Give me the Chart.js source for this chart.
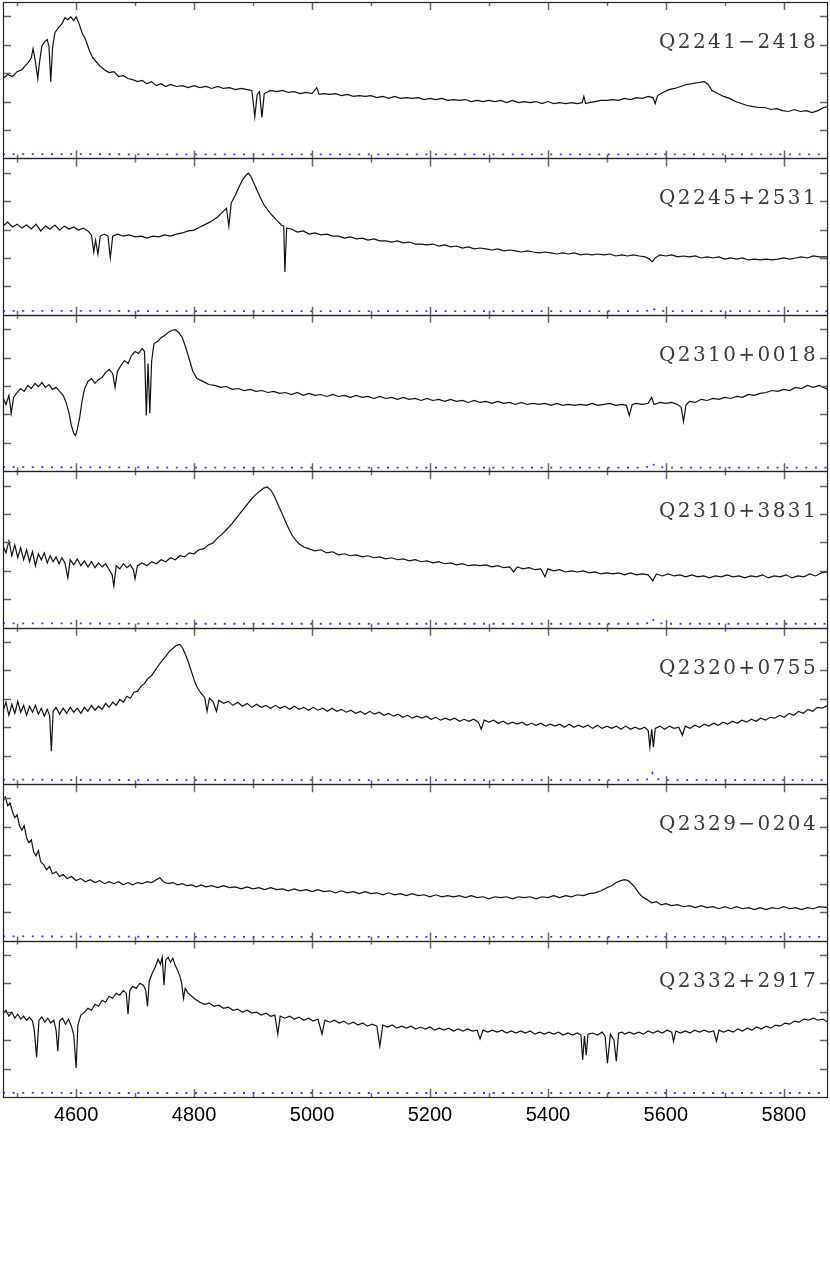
<!DOCTYPE html>
<html>
<head>
<meta charset="utf-8">
<title>Quasar spectra</title>
<script src="https://cdn.jsdelivr.net/npm/chart.js@4.4.0/dist/chart.umd.min.js"></script>
<style>
  html, body { margin: 0; padding: 0; background: #fff; }
  #wrap { width: 830px; height: 1278px; }
</style>
</head>
<body>
<div id="wrap"><canvas id="spectra" width="830" height="1278"></canvas></div>
<script>
// object names, top panel first
const names = ["Q2241\u22122418", "Q2245+2531", "Q2310+0018", "Q2310+3831",
               "Q2320+0755", "Q2329\u22120204", "Q2332+2917"];

// axis ticks (wavelength in Angstrom, flux in arbitrary units)
const xMajor = [4600, 4800, 5000, 5200, 5400, 5600, 5800];
const xMinor = [4500, 4700, 4900, 5100, 5300, 5500, 5700];
const yTicks = [1, 2, 3, 4, 5];

// Q2241-2418
const wave1 = [
  4476,4484,4492,4500,4508,4514,4520,4524,4527,4531,
  4535,4538,4542,4547,4551,4554,4557,4560,4564,4570,
  4576,4581,4586,4591,4596,4600,4605,4610,4616,4622,
  4628,4634,4640,4648,4656,4664,4672,4680,4688,4696,
  4704,4712,4720,4728,4736,4744,4752,4760,4770,4780,
  4790,4800,4810,4820,4830,4840,4850,4860,4870,4880,
  4890,4898,4903,4907,4911,4915,4919,4930,4940,4950,
  4960,4970,4980,4990,5000,5008,5012,5020,5030,5040,
  5050,5060,5070,5080,5090,5100,5110,5120,5130,5140,
  5150,5160,5170,5180,5190,5200,5210,5220,5230,5240,
  5250,5260,5270,5280,5290,5300,5310,5320,5330,5340,
  5350,5360,5370,5380,5390,5400,5410,5420,5430,5440,
  5450,5458,5461,5464,5470,5480,5490,5500,5510,5520,
  5530,5540,5550,5560,5570,5578,5582,5586,5595,5605,
  5615,5625,5635,5645,5655,5665,5672,5678,5688,5698,
  5708,5718,5728,5738,5748,5758,5768,5778,5788,5798,
  5808,5818,5828,5838,5848,5858,5868,5875];
const flux1 = [
  2.81,2.95,2.88,3.05,3.12,3.26,3.40,3.54,3.86,3.40,
  2.81,3.40,3.96,4.11,4.18,3.93,2.70,3.89,4.42,4.60,
  4.74,4.95,4.88,4.98,4.84,4.98,4.74,4.42,4.18,3.82,
  3.54,3.40,3.26,3.12,3.02,3.05,2.88,2.91,2.81,2.77,
  2.70,2.74,2.63,2.70,2.56,2.63,2.53,2.60,2.53,2.56,
  2.49,2.56,2.49,2.53,2.46,2.53,2.46,2.49,2.42,2.46,
  2.42,2.39,1.47,2.25,2.35,1.44,2.28,2.39,2.35,2.39,
  2.32,2.35,2.28,2.32,2.28,2.49,2.25,2.28,2.25,2.28,
  2.21,2.25,2.18,2.21,2.18,2.21,2.14,2.18,2.11,2.18,
  2.11,2.14,2.11,2.14,2.07,2.11,2.07,2.11,2.04,2.07,
  2.04,2.07,2.00,2.04,2.00,2.04,2.00,2.04,1.96,2.04,
  1.96,2.00,1.96,2.00,1.93,2.00,1.93,1.96,1.93,1.96,
  1.93,1.96,2.18,1.93,1.96,2.00,2.04,2.04,2.07,2.04,
  2.11,2.07,2.14,2.11,2.18,2.14,1.93,2.21,2.32,2.42,
  2.46,2.53,2.60,2.63,2.67,2.70,2.60,2.39,2.28,2.18,
  2.11,2.00,1.93,1.86,1.82,1.79,1.79,1.72,1.75,1.68,
  1.65,1.72,1.65,1.68,1.61,1.68,1.79,1.82];

// Q2245+2531
const wave2 = [
  4476,4484,4492,4500,4508,4516,4524,4532,4540,4548,
  4556,4564,4572,4580,4588,4596,4604,4612,4620,4626,
  4630,4633,4637,4641,4648,4654,4658,4662,4670,4680,
  4690,4700,4710,4720,4730,4740,4750,4760,4770,4780,
  4790,4800,4810,4820,4830,4840,4848,4855,4859,4863,
  4870,4876,4882,4888,4892,4896,4900,4906,4912,4918,
  4925,4932,4940,4948,4952,4954,4957,4965,4975,4985,
  4995,5005,5015,5025,5035,5045,5055,5065,5075,5085,
  5095,5105,5115,5125,5135,5145,5155,5165,5175,5185,
  5195,5205,5215,5225,5235,5245,5255,5265,5275,5285,
  5295,5305,5315,5325,5335,5345,5355,5365,5375,5385,
  5395,5405,5415,5425,5435,5445,5455,5465,5475,5485,
  5495,5505,5515,5525,5535,5545,5555,5565,5572,5577,
  5582,5590,5600,5610,5620,5630,5640,5650,5660,5670,
  5680,5690,5700,5710,5720,5730,5740,5750,5760,5770,
  5780,5790,5800,5810,5820,5830,5840,5850,5860,5875];
const flux2 = [
  3.12,3.26,3.09,3.19,3.05,3.16,3.02,3.19,2.95,3.12,
  3.02,3.16,2.98,3.12,3.02,3.09,2.98,3.05,2.95,2.81,
  2.21,2.63,2.14,2.77,2.84,2.77,2.00,2.77,2.84,2.77,
  2.81,2.74,2.77,2.70,2.77,2.74,2.81,2.77,2.84,2.88,
  2.95,2.98,3.09,3.19,3.30,3.44,3.61,3.75,3.12,3.93,
  4.21,4.49,4.74,4.91,4.98,4.88,4.70,4.42,4.14,3.89,
  3.68,3.51,3.33,3.16,3.12,1.51,3.05,3.02,2.91,2.95,
  2.84,2.88,2.81,2.84,2.77,2.77,2.70,2.74,2.67,2.70,
  2.63,2.67,2.60,2.60,2.56,2.60,2.53,2.56,2.49,2.49,
  2.46,2.49,2.42,2.46,2.39,2.42,2.35,2.39,2.32,2.35,
  2.32,2.28,2.32,2.25,2.28,2.25,2.21,2.25,2.21,2.18,
  2.21,2.18,2.14,2.18,2.14,2.18,2.11,2.14,2.11,2.14,
  2.11,2.14,2.07,2.11,2.07,2.11,2.07,2.04,1.96,1.86,
  2.00,2.11,2.07,2.11,2.04,2.07,2.04,2.07,2.00,2.04,
  2.00,2.04,1.96,2.00,1.96,2.00,1.93,1.96,1.93,1.96,
  1.93,1.96,2.00,1.96,2.00,2.04,2.00,2.07,2.04,2.04];

// Q2310+0018
const wave3 = [
  4476,4481,4486,4490,4494,4500,4506,4512,4518,4524,
  4530,4536,4542,4548,4554,4560,4566,4572,4578,4583,
  4588,4592,4596,4599,4602,4606,4610,4614,4620,4626,
  4632,4638,4644,4650,4656,4662,4666,4670,4676,4682,
  4688,4694,4700,4706,4712,4716,4719,4722,4725,4728,
  4732,4738,4744,4750,4756,4762,4768,4774,4780,4786,
  4792,4798,4805,4815,4825,4835,4845,4855,4865,4875,
  4885,4895,4905,4915,4925,4935,4945,4955,4965,4975,
  4985,4995,5005,5015,5025,5035,5045,5055,5065,5075,
  5085,5095,5105,5115,5125,5135,5145,5155,5165,5175,
  5185,5195,5205,5215,5225,5235,5245,5255,5265,5275,
  5285,5295,5305,5315,5325,5335,5345,5355,5365,5375,
  5385,5395,5405,5415,5425,5435,5445,5455,5465,5475,
  5485,5495,5505,5515,5525,5533,5538,5543,5550,5560,
  5570,5576,5580,5590,5600,5610,5620,5626,5630,5634,
  5640,5650,5660,5670,5680,5690,5700,5710,5720,5730,
  5740,5750,5760,5770,5780,5790,5800,5810,5820,5830,
  5840,5850,5860,5875];
const flux3 = [
  2.60,2.35,2.67,2.04,2.60,2.77,2.91,2.81,3.02,2.91,
  3.09,2.98,3.12,2.95,3.05,2.88,2.95,2.81,2.67,2.42,
  2.04,1.61,1.33,1.26,1.47,1.89,2.46,2.88,3.16,3.26,
  3.09,3.23,3.30,3.47,3.58,3.44,2.95,3.51,3.72,3.89,
  3.79,4.07,4.21,4.14,4.32,4.21,1.96,3.79,2.04,3.86,
  4.49,4.56,4.70,4.77,4.88,4.95,4.98,4.88,4.70,4.35,
  3.93,3.51,3.26,3.16,3.05,3.02,2.95,2.98,2.88,2.91,
  2.84,2.88,2.81,2.84,2.77,2.81,2.74,2.77,2.70,2.77,
  2.67,2.74,2.67,2.70,2.63,2.70,2.63,2.67,2.60,2.67,
  2.60,2.63,2.56,2.63,2.56,2.60,2.53,2.60,2.53,2.56,
  2.49,2.56,2.49,2.53,2.46,2.53,2.46,2.49,2.42,2.49,
  2.42,2.46,2.39,2.46,2.39,2.42,2.35,2.42,2.35,2.39,
  2.35,2.39,2.32,2.39,2.32,2.35,2.32,2.35,2.32,2.39,
  2.32,2.35,2.39,2.32,2.35,2.32,1.96,2.35,2.39,2.35,
  2.39,2.60,2.35,2.42,2.39,2.42,2.35,2.25,1.75,2.32,
  2.46,2.42,2.53,2.49,2.56,2.53,2.60,2.56,2.63,2.60,
  2.70,2.67,2.74,2.77,2.84,2.81,2.88,2.84,2.95,2.91,
  3.02,2.95,3.02,2.88];

// Q2310+3831
const wave4 = [
  4476,4481,4486,4491,4496,4501,4506,4511,4516,4521,
  4526,4531,4536,4541,4546,4551,4556,4561,4566,4571,
  4576,4581,4586,4590,4596,4602,4608,4614,4620,4626,
  4632,4638,4644,4650,4656,4661,4664,4668,4674,4680,
  4686,4692,4697,4700,4704,4712,4720,4728,4736,4744,
  4752,4760,4768,4776,4784,4792,4800,4808,4816,4824,
  4832,4840,4848,4856,4864,4872,4880,4888,4896,4904,
  4912,4918,4924,4930,4936,4942,4948,4954,4960,4966,
  4972,4978,4986,4995,5005,5015,5025,5035,5045,5055,
  5065,5075,5085,5095,5105,5115,5125,5135,5145,5155,
  5165,5175,5185,5195,5205,5215,5225,5235,5245,5255,
  5265,5275,5285,5295,5305,5315,5325,5335,5342,5348,
  5358,5368,5378,5388,5395,5400,5410,5420,5430,5440,
  5450,5460,5470,5480,5490,5500,5510,5520,5530,5540,
  5550,5560,5570,5578,5584,5594,5604,5614,5624,5634,
  5644,5654,5664,5674,5684,5694,5704,5714,5724,5734,
  5744,5754,5764,5774,5784,5794,5804,5814,5824,5834,
  5844,5854,5864,5875];
const flux4 = [
  2.88,2.63,3.05,2.53,2.91,2.46,2.81,2.39,2.74,2.32,
  2.67,2.18,2.60,2.39,2.63,2.28,2.53,2.32,2.49,2.25,
  2.46,2.28,1.75,2.39,2.21,2.42,2.18,2.35,2.14,2.32,
  2.11,2.28,2.14,2.25,2.04,1.86,1.47,2.18,2.07,2.25,
  2.11,2.21,2.04,1.72,2.18,2.28,2.18,2.32,2.25,2.39,
  2.32,2.46,2.39,2.53,2.49,2.63,2.60,2.74,2.77,2.91,
  2.98,3.16,3.30,3.47,3.65,3.86,4.07,4.28,4.49,4.67,
  4.81,4.91,4.95,4.84,4.63,4.35,4.07,3.79,3.51,3.26,
  3.09,2.95,2.84,2.77,2.70,2.74,2.63,2.67,2.56,2.60,
  2.53,2.56,2.49,2.53,2.46,2.49,2.42,2.46,2.39,2.42,
  2.35,2.39,2.32,2.35,2.28,2.32,2.25,2.28,2.21,2.25,
  2.18,2.21,2.18,2.21,2.14,2.18,2.11,2.14,1.96,2.14,
  2.07,2.11,2.04,2.07,1.79,2.07,2.00,2.04,1.96,2.00,
  1.96,2.00,1.93,1.96,1.89,1.93,1.89,1.93,1.86,1.93,
  1.86,1.89,1.86,1.65,1.89,1.82,1.89,1.82,1.86,1.79,
  1.86,1.79,1.82,1.75,1.82,1.79,1.86,1.79,1.82,1.75,
  1.82,1.79,1.86,1.75,1.82,1.79,1.86,1.75,1.82,1.79,
  1.89,1.82,1.93,1.96];

// Q2320+0755
const wave5 = [
  4476,4481,4486,4491,4496,4501,4506,4511,4516,4521,
  4526,4531,4536,4541,4546,4551,4555,4558,4561,4566,
  4572,4578,4584,4590,4596,4602,4608,4614,4620,4626,
  4632,4638,4644,4650,4656,4662,4668,4674,4680,4686,
  4692,4698,4704,4710,4716,4722,4728,4734,4740,4746,
  4752,4758,4764,4770,4776,4781,4786,4791,4796,4801,
  4806,4812,4818,4822,4826,4832,4838,4842,4850,4858,
  4866,4874,4882,4890,4898,4906,4914,4922,4930,4938,
  4946,4954,4962,4970,4978,4986,4994,5002,5010,5018,
  5026,5034,5042,5050,5058,5066,5074,5082,5090,5098,
  5106,5114,5122,5130,5138,5146,5154,5162,5170,5178,
  5186,5194,5202,5210,5218,5226,5234,5242,5250,5258,
  5266,5274,5282,5287,5292,5300,5308,5316,5324,5332,
  5340,5348,5356,5364,5372,5380,5388,5396,5404,5412,
  5420,5428,5436,5444,5452,5460,5468,5476,5484,5492,
  5500,5508,5516,5524,5532,5540,5548,5556,5564,5570,
  5573,5576,5579,5582,5590,5598,5606,5614,5622,5628,
  5633,5641,5649,5657,5665,5673,5681,5689,5697,5705,
  5713,5721,5729,5737,5745,5753,5761,5769,5777,5785,
  5793,5801,5809,5817,5825,5833,5841,5849,5857,5865,
  5875];
const flux5 = [
  2.56,2.88,2.42,2.81,2.49,2.91,2.53,2.77,2.42,2.74,
  2.53,2.77,2.46,2.67,2.39,2.63,2.42,1.16,2.56,2.70,
  2.46,2.67,2.49,2.70,2.53,2.67,2.49,2.70,2.56,2.77,
  2.60,2.74,2.63,2.84,2.70,2.88,2.77,2.98,2.88,3.09,
  3.02,3.23,3.26,3.44,3.54,3.72,3.82,4.00,4.18,4.35,
  4.49,4.67,4.77,4.88,4.91,4.77,4.53,4.25,3.93,3.61,
  3.37,3.19,3.05,2.56,3.02,2.91,2.56,2.95,2.84,2.91,
  2.77,2.88,2.74,2.84,2.70,2.81,2.70,2.77,2.67,2.77,
  2.67,2.74,2.63,2.74,2.63,2.70,2.60,2.70,2.60,2.67,
  2.56,2.67,2.56,2.63,2.53,2.60,2.49,2.56,2.46,2.56,
  2.46,2.53,2.42,2.49,2.39,2.46,2.35,2.42,2.32,2.39,
  2.32,2.39,2.28,2.35,2.25,2.32,2.25,2.32,2.21,2.28,
  2.21,2.28,2.18,1.93,2.25,2.18,2.25,2.14,2.21,2.11,
  2.18,2.11,2.18,2.07,2.14,2.07,2.14,2.04,2.11,2.04,
  2.11,2.00,2.11,2.00,2.07,2.00,2.07,1.96,2.07,1.96,
  2.04,1.96,2.04,1.93,2.04,1.93,2.00,1.93,2.00,1.89,
  1.30,1.93,1.30,1.96,2.04,1.93,2.04,1.96,2.00,1.72,
  2.04,1.96,2.07,2.00,2.11,2.04,2.14,2.07,2.18,2.11,
  2.21,2.14,2.25,2.18,2.28,2.21,2.32,2.25,2.35,2.32,
  2.42,2.35,2.49,2.42,2.56,2.49,2.63,2.56,2.70,2.67,
  2.77];

// Q2329-0204
const wave6 = [
  4476,4480,4484,4488,4492,4496,4500,4504,4508,4512,
  4516,4520,4524,4528,4532,4536,4540,4545,4550,4555,
  4560,4566,4572,4578,4585,4592,4600,4608,4616,4624,
  4632,4640,4648,4656,4664,4672,4680,4688,4696,4704,
  4712,4720,4728,4736,4742,4748,4756,4764,4772,4780,
  4788,4796,4804,4812,4820,4830,4840,4850,4860,4870,
  4880,4890,4900,4910,4920,4930,4940,4950,4960,4970,
  4980,4990,5000,5010,5020,5030,5040,5050,5060,5070,
  5080,5090,5100,5110,5120,5130,5140,5150,5160,5170,
  5180,5190,5200,5210,5220,5230,5240,5250,5260,5270,
  5280,5290,5300,5310,5320,5330,5340,5350,5360,5370,
  5380,5390,5400,5410,5420,5430,5440,5450,5460,5470,
  5480,5490,5500,5508,5516,5524,5530,5536,5542,5548,
  5554,5560,5568,5576,5584,5592,5600,5610,5620,5630,
  5640,5650,5660,5670,5680,5690,5700,5710,5720,5730,
  5740,5750,5760,5770,5780,5790,5800,5810,5820,5830,
  5840,5850,5860,5875];
const flux6 = [
  4.91,5.05,4.74,4.84,4.53,4.32,4.42,4.04,3.89,4.04,
  3.61,3.44,3.54,3.12,2.98,3.16,2.77,2.67,2.49,2.60,
  2.35,2.42,2.25,2.32,2.18,2.25,2.11,2.18,2.07,2.14,
  2.04,2.11,2.00,2.07,2.00,2.07,1.96,2.04,1.96,2.04,
  2.00,2.07,2.04,2.14,2.21,2.07,2.00,2.04,1.96,2.00,
  1.93,1.96,1.89,1.96,1.89,1.93,1.86,1.93,1.86,1.89,
  1.82,1.89,1.82,1.86,1.79,1.86,1.79,1.82,1.75,1.82,
  1.75,1.79,1.72,1.79,1.72,1.75,1.68,1.75,1.68,1.72,
  1.65,1.72,1.65,1.68,1.61,1.68,1.61,1.65,1.58,1.65,
  1.58,1.61,1.54,1.61,1.54,1.58,1.54,1.58,1.51,1.58,
  1.51,1.54,1.47,1.54,1.51,1.54,1.47,1.54,1.51,1.54,
  1.47,1.54,1.51,1.58,1.51,1.58,1.54,1.61,1.58,1.65,
  1.68,1.75,1.86,1.93,2.04,2.11,2.14,2.11,2.00,1.86,
  1.68,1.54,1.44,1.33,1.37,1.26,1.30,1.23,1.26,1.19,
  1.23,1.16,1.23,1.16,1.19,1.12,1.19,1.12,1.19,1.12,
  1.16,1.09,1.16,1.09,1.16,1.12,1.19,1.12,1.16,1.09,
  1.16,1.12,1.19,1.16];

// Q2332+2917
const wave7 = [
  4476,4481,4486,4491,4496,4501,4506,4511,4516,4521,
  4526,4529,4533,4537,4542,4547,4552,4557,4562,4566,
  4569,4572,4577,4582,4587,4592,4596,4600,4603,4608,
  4614,4620,4626,4632,4638,4644,4650,4656,4662,4668,
  4674,4680,4685,4688,4691,4696,4702,4708,4714,4718,
  4721,4724,4729,4734,4739,4743,4746,4749,4752,4756,
  4760,4764,4768,4772,4776,4779,4782,4785,4790,4796,
  4802,4810,4818,4826,4834,4842,4850,4858,4866,4874,
  4882,4890,4898,4906,4914,4922,4930,4937,4942,4946,
  4954,4962,4970,4978,4986,4994,5002,5010,5017,5022,
  5030,5038,5046,5054,5062,5070,5078,5086,5094,5102,
  5110,5115,5120,5128,5136,5144,5152,5160,5168,5176,
  5184,5192,5200,5208,5216,5224,5232,5240,5248,5256,
  5264,5272,5280,5285,5290,5298,5306,5314,5322,5330,
  5338,5346,5354,5362,5370,5378,5386,5394,5402,5410,
  5418,5426,5434,5442,5450,5456,5459,5462,5465,5468,
  5476,5484,5492,5497,5501,5506,5512,5516,5520,5526,
  5530,5538,5546,5554,5562,5570,5578,5586,5594,5602,
  5610,5613,5617,5625,5633,5641,5649,5657,5665,5673,
  5681,5686,5690,5698,5706,5714,5722,5730,5738,5746,
  5754,5762,5770,5778,5786,5794,5802,5810,5818,5826,
  5834,5842,5850,5858,5866,5875];
const flux7 = [
  2.95,3.05,2.84,2.98,2.77,2.91,2.74,2.84,2.70,2.81,
  2.67,2.35,1.40,2.70,2.81,2.63,2.77,2.60,2.70,2.35,
  1.61,2.67,2.77,2.56,2.74,2.49,2.18,1.02,2.53,2.88,
  2.98,3.12,3.05,3.26,3.19,3.40,3.33,3.54,3.47,3.65,
  3.58,3.75,3.65,2.91,3.75,3.89,3.82,4.00,3.93,3.75,
  3.19,4.07,4.35,4.56,4.84,4.67,4.91,3.93,4.81,4.91,
  4.74,4.88,4.63,4.46,4.25,4.00,3.47,3.82,3.65,3.54,
  3.44,3.33,3.26,3.30,3.19,3.23,3.12,3.16,3.05,3.09,
  2.98,3.05,2.95,2.98,2.88,2.95,2.84,2.88,2.21,2.84,
  2.77,2.84,2.74,2.81,2.70,2.77,2.67,2.74,2.21,2.70,
  2.63,2.70,2.60,2.67,2.56,2.63,2.53,2.60,2.49,2.56,
  2.49,1.79,2.53,2.46,2.53,2.42,2.49,2.42,2.49,2.39,
  2.46,2.39,2.46,2.35,2.42,2.35,2.42,2.32,2.39,2.32,
  2.39,2.32,2.35,2.04,2.35,2.28,2.35,2.28,2.35,2.25,
  2.32,2.25,2.32,2.25,2.32,2.21,2.28,2.21,2.28,2.21,
  2.28,2.18,2.25,2.18,2.25,2.18,1.30,2.14,1.47,2.21,
  2.25,2.18,2.28,2.14,1.19,2.21,2.00,1.26,2.25,2.28,
  2.21,2.28,2.21,2.28,2.21,2.32,2.25,2.32,2.25,2.35,
  2.28,1.96,2.32,2.25,2.32,2.25,2.35,2.28,2.35,2.28,
  2.32,1.96,2.35,2.28,2.35,2.28,2.39,2.32,2.42,2.35,
  2.46,2.39,2.49,2.42,2.53,2.49,2.60,2.56,2.67,2.63,
  2.74,2.70,2.77,2.70,2.74,2.63];

// error spectra (blue dotted), shared wavelength grid
const errWave = [4476, 4600, 4800, 5000, 5200, 5400, 5560, 5572, 5577, 5582, 5600, 5800, 5875];
const err1 = [0.15,0.15,0.14,0.14,0.14,0.14,0.14,0.15,0.22,0.15,0.14,0.14,0.14];
const err2 = [0.14,0.14,0.13,0.13,0.13,0.13,0.13,0.15,0.27,0.15,0.13,0.13,0.13];
const err3 = [0.15,0.14,0.13,0.13,0.13,0.13,0.13,0.16,0.30,0.16,0.13,0.13,0.13];
const err4 = [0.15,0.15,0.14,0.14,0.14,0.14,0.14,0.17,0.33,0.17,0.14,0.14,0.14];
const err5 = [0.16,0.15,0.14,0.14,0.14,0.14,0.14,0.18,0.40,0.18,0.14,0.14,0.14];
const err6 = [0.15,0.14,0.13,0.13,0.13,0.13,0.13,0.14,0.20,0.14,0.13,0.13,0.13];
const err7 = [0.15,0.14,0.14,0.14,0.14,0.14,0.14,0.15,0.22,0.15,0.14,0.14,0.14];

const waves = [wave1, wave2, wave3, wave4, wave5, wave6, wave7];
const fluxes = [flux1, flux2, flux3, flux4, flux5, flux6, flux7];
const errs = [err1, err2, err3, err4, err5, err6, err7];

const panelIds = names.map((n, i) => "y" + (i + 1));

// build the datasets: error first so the spectrum sits on top
const datasets = [];
names.forEach((name, i) => {
  if (waves[i].length !== fluxes[i].length) {
    console.error("length mismatch in panel " + name);
  }
  datasets.push({
    label: name + " error",
    data: errWave.map((w, k) => ({ x: w, y: errs[i][k] })),
    yAxisID: panelIds[i],
    borderColor: "rgb(45, 65, 255)",
    borderWidth: 1.8,
    borderDash: [2, 7.6],
    pointRadius: 0,
    tension: 0
  });
  datasets.push({
    label: name,
    data: waves[i].map((w, k) => ({ x: w, y: fluxes[i][k] })),
    yAxisID: panelIds[i],
    borderColor: "#111",
    borderWidth: 1.2,
    pointRadius: 0,
    tension: 0
  });
});

const scales = {
  x: {
    type: "linear",
    position: "bottom",
    min: 4476,
    max: 5875,
    grid: { display: false, drawTicks: false },
    border: { display: false },
    afterBuildTicks: (axis) => { axis.ticks = xMajor.map(v => ({ value: v })); },
    ticks: {
      padding: 6,
      color: "#000",
      maxRotation: 0,
      autoSkip: false,
      font: { family: "'Liberation Sans', Arial, sans-serif", size: 20 },
      callback: (v) => String(v)
    },
    afterFit: (axis) => { axis.height = 181; }
  }
};
panelIds.forEach((id, i) => {
  scales[id] = {
    type: "linear",
    position: "left",
    stack: "panels",
    stackWeight: 1,
    weight: names.length - i,   // higher weight is placed higher in the stack
    min: 0,
    max: 5.5,
    grid: { display: false, drawTicks: false },
    border: { display: false },
    ticks: { display: false },
    afterFit: (axis) => { axis.width = 0; }
  };
});

// frames, inward tick marks and object names for every panel
const panelFrame = {
  id: "panelFrame",
  afterDatasetsDraw(chart) {
    const { ctx, chartArea } = chart;
    const xs = chart.scales.x;
    const left = chartArea.left, right = chartArea.right;
    ctx.save();
    panelIds.forEach((id, i) => {
      const s = chart.scales[id];
      const top = s.top, bottom = s.bottom;

      ctx.strokeStyle = "#666";
      ctx.lineWidth = 1.5;
      ctx.beginPath();
      xMajor.forEach(v => {
        const p = Math.round(xs.getPixelForValue(v)) + 0.5;
        ctx.moveTo(p, top); ctx.lineTo(p, top + 8);
        ctx.moveTo(p, bottom); ctx.lineTo(p, bottom - 8);
      });
      xMinor.forEach(v => {
        const p = Math.round(xs.getPixelForValue(v)) + 0.5;
        ctx.moveTo(p, top); ctx.lineTo(p, top + 4);
        ctx.moveTo(p, bottom); ctx.lineTo(p, bottom - 4);
      });
      yTicks.forEach(v => {
        const p = Math.round(s.getPixelForValue(v)) + 0.5;
        ctx.moveTo(left, p); ctx.lineTo(left + 8, p);
        ctx.moveTo(right, p); ctx.lineTo(right - 8, p);
      });
      ctx.stroke();

      ctx.strokeStyle = "#222";
      ctx.lineWidth = 1.2;
      ctx.strokeRect(left + 0.5, Math.round(top) + 0.5, right - left - 1, Math.round(bottom) - Math.round(top));

      ctx.fillStyle = "#3a3a3a";
      ctx.font = "20px 'DejaVu Serif', serif";
      ctx.letterSpacing = "2.4px";
      ctx.textAlign = "right";
      ctx.textBaseline = "alphabetic";
      ctx.fillText(names[i], right - 10, top + 46);
      ctx.letterSpacing = "0px";
    });
    ctx.restore();
  }
};

new Chart(document.getElementById("spectra"), {
  type: "line",
  data: { datasets: datasets },
  options: {
    responsive: false,
    animation: false,
    devicePixelRatio: 1,
    layout: { padding: { left: 3, right: 2, top: 2, bottom: 0 } },
    scales: scales,
    plugins: {
      legend: { display: false },
      tooltip: { enabled: false }
    }
  },
  plugins: [panelFrame]
});
</script>
</body>
</html>
